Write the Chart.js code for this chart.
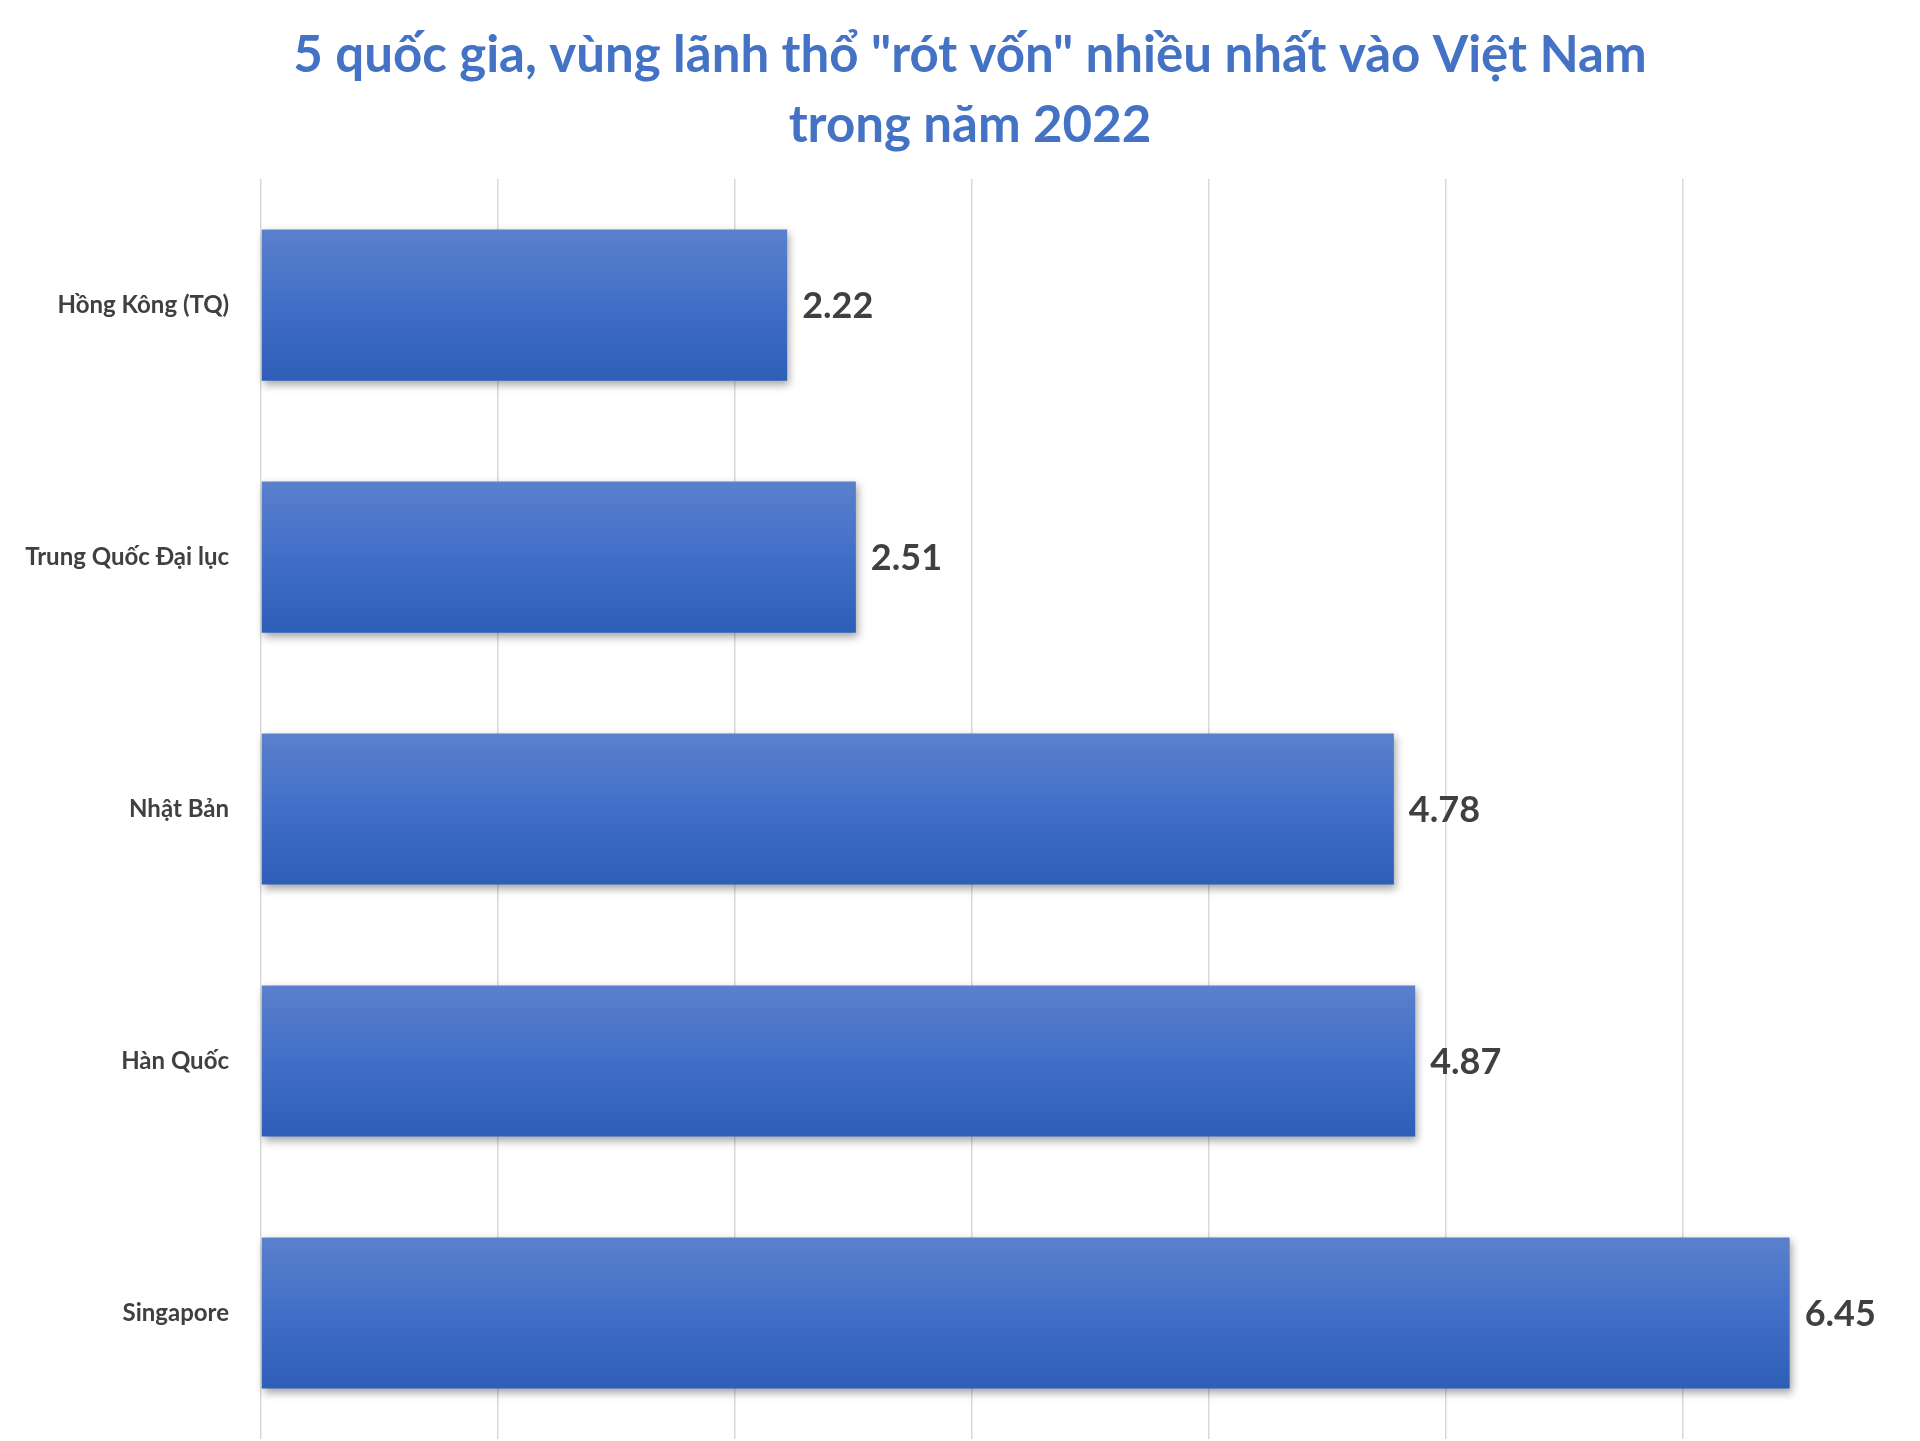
<!DOCTYPE html>
<html>
<head>
<meta charset="utf-8">
<script src="https://cdn.jsdelivr.net/npm/chart.js@4.4.1/dist/chart.umd.min.js"></script>
<style>
  html, body { margin: 0; padding: 0; background: #fff; }
  #wrap { width: 1920px; height: 1441px; }
</style>
</head>
<body>
<div id="wrap"><canvas id="c" width="1920" height="1441"></canvas></div>
<script>
// data (vốn FDI, tỷ USD)
var countries = ['Hồng Kông (TQ)', 'Trung Quốc Đại lục', 'Nhật Bản', 'Hàn Quốc', 'Singapore'];
var capital = [2.22, 2.51, 4.78, 4.87, 6.45];
var titleLines = ['5 quốc gia, vùng lãnh thổ "rót vốn" nhiều nhất vào Việt Nam', 'trong năm 2022'];

var FONT = 'Lato, "Open Sans", sans-serif';
var TEXT = '#404040';
var BAR_PCT = 0.6;

function barGradient(ctx) {
  var chart = ctx.chart;
  var y = chart.scales.y;
  if (!chart.chartArea || !y) return '#4472c4';
  var c = y.getPixelForValue(ctx.dataIndex);
  var half = (y.height / countries.length) * BAR_PCT / 2;
  var g = chart.ctx.createLinearGradient(0, c - half, 0, c + half);
  g.addColorStop(0, '#5b80cc');
  g.addColorStop(0.5, '#416fc8');
  g.addColorStop(1, '#2e5eb7');
  return g;
}

// soft shadow under the bars, like the office chart style
var barShadow = {
  id: 'barShadow',
  beforeDatasetDraw: function (chart) {
    var ctx = chart.ctx;
    ctx.save();
    ctx.shadowColor = 'rgba(0,0,0,0.35)';
    ctx.shadowBlur = 8;
    ctx.shadowOffsetX = 2;
    ctx.shadowOffsetY = 4;
  },
  afterDatasetDraw: function (chart) {
    chart.ctx.restore();
  }
};

// value labels to the right of each bar
var valueLabels = {
  id: 'valueLabels',
  afterDatasetsDraw: function (chart) {
    var ctx = chart.ctx;
    var meta = chart.getDatasetMeta(0);
    ctx.save();
    ctx.font = 'bold 36px ' + FONT;
    ctx.fillStyle = TEXT;
    ctx.textAlign = 'left';
    ctx.textBaseline = 'middle';
    meta.data.forEach(function (bar, i) {
      ctx.fillText(capital[i].toFixed(2), bar.x + 15, bar.y + 1);
    });
    ctx.restore();
  }
};

new Chart(document.getElementById('c'), {
  type: 'bar',
  data: {
    labels: countries,
    datasets: [{
      data: capital,
      backgroundColor: barGradient,
      borderWidth: 0,
      barPercentage: BAR_PCT,
      categoryPercentage: 1,
      clip: false
    }]
  },
  options: {
    indexAxis: 'y',
    responsive: false,
    animation: false,
    layout: { padding: { left: 20, right: 0, top: 0, bottom: 2 } },
    plugins: {
      legend: { display: false },
      tooltip: { enabled: false },
      title: {
        display: true,
        text: titleLines,
        color: '#4472c4',
        font: { family: FONT, size: 51, weight: 'bold', lineHeight: 1.373 },
        padding: { top: 21, bottom: 18 }
      }
    },
    scales: {
      x: {
        min: 0,
        max: 7,
        ticks: { display: false, stepSize: 1 },
        grid: {
          drawTicks: false,
          color: function (c) { return c.tick && c.tick.value === 7 ? 'rgba(0,0,0,0)' : '#d9d9d9'; },
          lineWidth: 1.5
        },
        border: { display: false },
        afterFit: function (scale) { scale.height = 0; }
      },
      y: {
        ticks: {
          color: TEXT,
          padding: 32,
          font: { family: FONT, size: 24, weight: 'bold' }
        },
        grid: { display: false, drawTicks: false },
        border: { display: false },
        afterFit: function (scale) {
          scale.width = 241;
          scale.paddingTop = 0;
          scale.paddingBottom = 0;
        }
      }
    }
  },
  plugins: [barShadow, valueLabels]
});
</script>
</body>
</html>
